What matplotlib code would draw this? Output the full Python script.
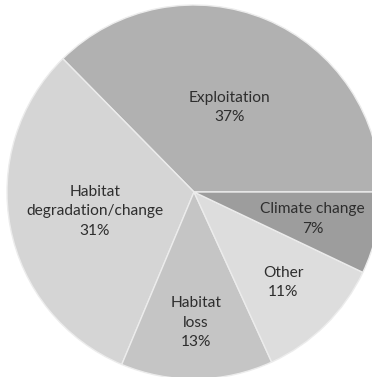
import numpy as np
import matplotlib.pyplot as plt

plt.rcParams['font.family'] = ['Lato', 'DejaVu Sans']

labels = ['Exploitation', 'Habitat\ndegradation/change', 'Habitat\nloss', 'Other', 'Climate change']
shares = [37, 31, 13, 11, 7]
colors = ['#b1b1b1', '#d5d5d5', '#c5c5c5', '#dddddd', '#9d9d9d']
# how far out (fraction of radius) each label sits
label_r = [0.49, 0.54, 0.70, 0.68, 0.65]

fig = plt.figure(figsize=(3.72, 3.77), dpi=100)
ax = fig.add_axes([7 / 372, -2 / 377, 374 / 372, 374 / 377])

wedges, _ = ax.pie(shares, colors=colors, startangle=0, counterclock=True,
                   wedgeprops=dict(edgecolor='#ececec', linewidth=1.0))

for w, lab, v, r in zip(wedges, labels, shares, label_r):
    mid = np.deg2rad((w.theta1 + w.theta2) / 2)
    ax.text(r * np.cos(mid), r * np.sin(mid), f'{lab}\n{v}%',
            ha='center', va='center', fontsize=11.2, color='#2e2e2e',
            linespacing=1.5)

ax.set_xlim(-1, 1)
ax.set_ylim(-1, 1)
ax.axis('off')

fig.savefig('out.png', dpi=100, facecolor='white')
